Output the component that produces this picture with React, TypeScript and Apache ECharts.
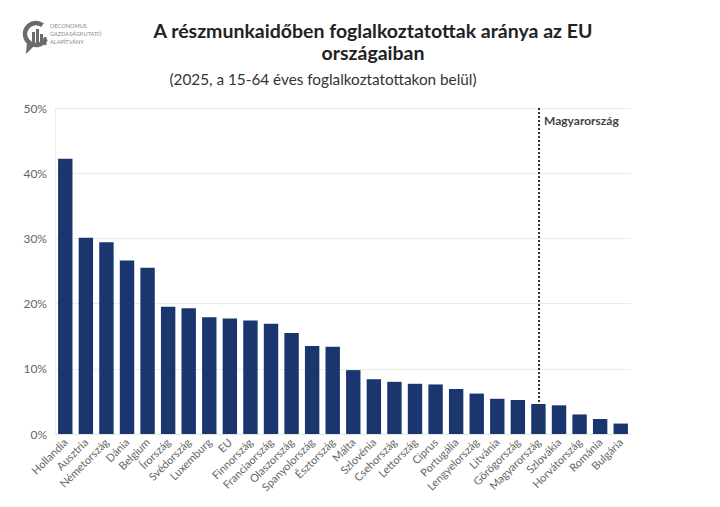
import React, { useEffect, useRef } from "react";
import * as echarts from "echarts";

const categories: string[] = [
  "Hollandia", "Ausztria", "Németország", "Dánia", "Belgium", "Írország",
  "Svédország", "Luxemburg", "EU", "Finnország", "Franciaország", "Olaszország",
  "Spanyolország", "Észtország", "Málta", "Szlovénia", "Csehország", "Lettország",
  "Ciprus", "Portugália", "Lengyelország", "Litvánia", "Görögország",
  "Magyarország", "Szlovákia", "Horvátország", "Románia", "Bulgária",
];

const values: number[] = [
  42.2, 30.1, 29.4, 26.6, 25.5, 19.5, 19.3, 17.9, 17.7, 17.4, 16.9, 15.5, 13.5,
  13.4, 9.8, 8.4, 8.0, 7.7, 7.6, 6.9, 6.2, 5.4, 5.2, 4.6, 4.4, 3.0, 2.3, 1.6,
];

const highlightCategory = "Magyarország";
const titleLines: string[] = ["A részmunkaidőben foglalkoztatottak aránya az EU", "országaiban"];
const subtitle = "(2025, a 15-64 éves foglalkoztatottakon belül)";
const logoLines: string[] = ["OECONOMUS", "GAZDASÁGKUTATÓ", "ALAPÍTVÁNY"];

const FONT = "Lato, 'Noto Sans', sans-serif";

export default function App() {
  const ref = useRef<HTMLDivElement>(null);

  useEffect(() => {
    if (!ref.current) return;
    const chart = echarts.init(ref.current, undefined, { renderer: "svg" });
    const logoColor = "#6b6b6b";
    chart.setOption({
      animation: false,
      backgroundColor: "#ffffff",
      textStyle: { fontFamily: FONT },
      grid: { left: 55, right: 89, top: 108, bottom: 73, containLabel: false },
      xAxis: {
        type: "category",
        data: categories,
        axisLine: { show: true, lineStyle: { color: "#e6e6e6" } },
        axisTick: { show: false },
        axisLabel: {
          interval: 0,
          rotate: 45,
          fontSize: 11,
          color: "#666",
          margin: 6,
          fontFamily: FONT,
        },
      },
      yAxis: {
        type: "value",
        min: 0,
        max: 50,
        interval: 10,
        axisLine: { show: true, lineStyle: { color: "#eeeeee" } },
        axisTick: { show: false },
        splitLine: { lineStyle: { color: "#ebebeb" } },
        axisLabel: {
          formatter: "{value}%",
          fontSize: 12,
          color: "#666",
          margin: 8,
          fontFamily: FONT,
        },
      },
      series: [
        {
          type: "bar",
          data: values,
          barCategoryGap: "30%",
          itemStyle: { color: "#1b366e" },
          markLine: {
            silent: true,
            symbol: "none",
            label: { show: false },
            lineStyle: { type: "dotted", color: "#333", width: 2 },
            data: [{ xAxis: highlightCategory }],
          },
        },
      ],
      graphic: [
        {
          type: "text",
          x: 373,
          y: 30,
          style: {
            text: titleLines[0],
            font: `bold 19.5px ${FONT}`,
            fill: "#222",
            textAlign: "center",
            textVerticalAlign: "middle",
          },
        },
        {
          type: "text",
          x: 373,
          y: 52,
          style: {
            text: titleLines[1],
            font: `bold 19.5px ${FONT}`,
            fill: "#222",
            textAlign: "center",
            textVerticalAlign: "middle",
          },
        },
        {
          type: "text",
          x: 323,
          y: 79,
          style: {
            text: subtitle,
            font: `15.3px ${FONT}`,
            fill: "#333",
            textAlign: "center",
            textVerticalAlign: "middle",
          },
        },
        {
          type: "text",
          x: 544,
          y: 120,
          style: {
            text: highlightCategory,
            font: `bold 12px ${FONT}`,
            fill: "#444",
            textAlign: "left",
            textVerticalAlign: "middle",
          },
        },
        // logo
        {
          type: "arc",
          shape: { cx: 36, cy: 34, r: 11, startAngle: -Math.PI * 0.3, endAngle: Math.PI * 0.15, clockwise: false },
          style: { stroke: logoColor, lineWidth: 4.5, fill: "none" },
        },
        {
          type: "polygon",
          shape: { points: [[27, 41], [26, 54], [35, 45]] },
          style: { fill: logoColor },
        },
        { type: "rect", shape: { x: 32, y: 32, width: 3, height: 13 }, style: { fill: logoColor } },
        { type: "rect", shape: { x: 36, y: 29, width: 3, height: 16 }, style: { fill: logoColor } },
        { type: "rect", shape: { x: 40, y: 34, width: 3, height: 11 }, style: { fill: logoColor } },
        { type: "rect", shape: { x: 44, y: 37, width: 2.5, height: 8 }, style: { fill: logoColor } },
        ...logoLines.map((t, i) => ({
          type: "text",
          x: 50,
          y: 25 + i * 8,
          style: {
            text: t,
            font: `5.6px ${FONT}`,
            fill: "#888",
            textAlign: "left",
            textVerticalAlign: "middle",
          },
        })),
      ],
    });
    return () => chart.dispose();
  }, []);

  return (
    <div
      ref={ref}
      style={{ position: "absolute", left: 0, top: 0, width: 720, height: 507 }}
    />
  );
}
